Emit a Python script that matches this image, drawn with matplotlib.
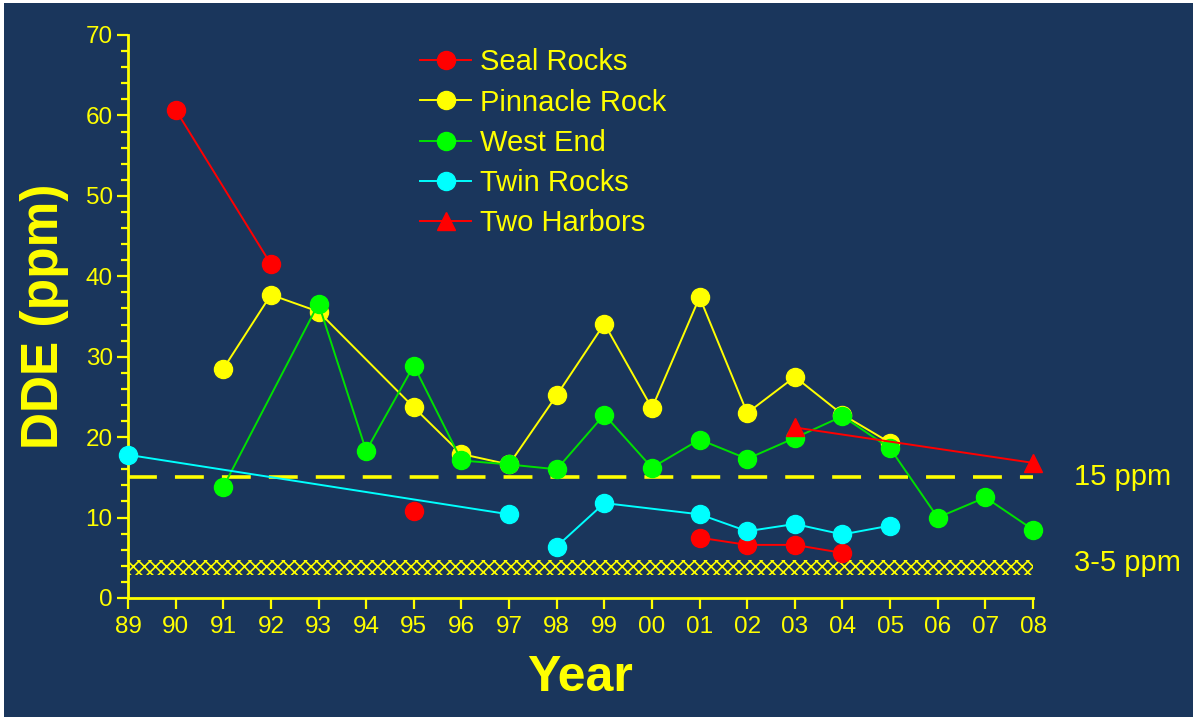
import numpy as np
import matplotlib.pyplot as plt
from matplotlib.patches import Rectangle

plt.rcParams['font.family'] = ['Liberation Sans', 'DejaVu Sans']
plt.rcParams['hatch.color'] = '#ffff00'
plt.rcParams['hatch.linewidth'] = 1.2

nan = np.nan
years = list(range(1989, 2009))
year_labels = ['89', '90', '91', '92', '93', '94', '95', '96', '97', '98',
               '99', '00', '01', '02', '03', '04', '05', '06', '07', '08']

# NaN breaks the line where the original chart leaves a gap
seal_x = [1990, 1992, nan, 1995, nan, 2001, 2002, 2003, 2004]
seal_y = [60.7, 41.5, nan, 10.8, nan, 7.5, 6.6, 6.6, 5.6]

pinnacle_x = [1991, 1992, 1993, 1995, 1996, 1997, 1998, 1999, 2000, 2001, 2002, 2003, 2004, 2005]
pinnacle_y = [28.5, 37.7, 35.6, 23.7, 17.9, 16.6, 25.2, 34.1, 23.6, 37.4, 23.0, 27.5, 22.8, 19.3]

west_x = [1991, 1993, 1994, 1995, 1996, 1997, 1998, 1999, 2000, 2001, 2002, 2003, 2004, 2005, 2006, 2007, 2008]
west_y = [13.8, 36.6, 18.3, 28.9, 17.1, 16.6, 16.0, 22.8, 16.2, 19.7, 17.3, 19.9, 22.6, 18.6, 10.0, 12.5, 8.5]

twin_x = [1989, 1997, nan, 1998, 1999, 2001, 2002, 2003, 2004, 2005]
twin_y = [17.8, 10.4, nan, 6.4, 11.8, 10.4, 8.3, 9.2, 7.9, 9.0]

harbors_x = [2003, 2008]
harbors_y = [21.2, 16.8]

limit_high = 15
band_low, band_high = 2.9, 4.7

navy = '#1a365c'
yellow = '#ffff00'

fig = plt.figure(figsize=(11.93, 7.17), dpi=100, facecolor=navy)
# thin white strips along the top and left edge of the slide crop
fig.patches.append(Rectangle((0, 0.996), 1, 0.01, transform=fig.transFigure,
                             facecolor='white', edgecolor='none'))
fig.patches.append(Rectangle((0, 0), 0.003, 1, transform=fig.transFigure,
                             facecolor='white', edgecolor='none'))
ax = fig.add_axes([0.1073, 0.166, 0.7586, 0.7852])
ax.set_facecolor('none')

ax.fill_between([1989, 2008], band_low, band_high, facecolor='none',
                edgecolor=yellow, hatch='xxx', linewidth=0, zorder=1)
ax.plot([1989, 2008], [limit_high, limit_high], color=yellow, lw=2.6,
        dashes=(8, 5), zorder=1)

style = dict(lw=1.4, ms=13, clip_on=False, zorder=3)
ax.plot(seal_x, seal_y, '-o', color='#ff0000', mfc='#ff0000', mec='#ff0000', label='Seal Rocks', **style)
ax.plot(pinnacle_x, pinnacle_y, '-o', color='#ffff00', mfc='#ffff00', mec='#ffff00', label='Pinnacle Rock', **style)
ax.plot(west_x, west_y, '-o', color='#00e000', mfc='#00ff00', mec='#00ff00', label='West End', **style)
ax.plot(twin_x, twin_y, '-o', color='#00ffff', mfc='#00ffff', mec='#00ffff', label='Twin Rocks', **style)
ax.plot(harbors_x, harbors_y, '-^', color='#ff0000', mfc='#ff0000', mec='#ff0000', label='Two Harbors', **style)

ax.set_xlim(1989, 2008)
ax.set_ylim(0, 70)
ax.set_xticks(years)
ax.set_xticklabels(year_labels)
ax.set_yticks(range(0, 71, 10))
ax.set_yticks(range(0, 71, 2), minor=True)

for s in ['top', 'right']:
    ax.spines[s].set_visible(False)
for s in ['left', 'bottom']:
    ax.spines[s].set_color(yellow)
    ax.spines[s].set_linewidth(2)

ax.tick_params(axis='both', which='major', colors=yellow, labelsize=17.5, length=8, width=1.6)
ax.tick_params(axis='y', which='minor', colors=yellow, length=5, width=1.6)
ax.tick_params(axis='x', pad=5)
ax.tick_params(axis='y', pad=3)

ax.set_ylabel('DDE (ppm)', color=yellow, fontsize=37, fontweight='bold', labelpad=12)
ax.set_xlabel('Year', color=yellow, fontsize=36, fontweight='bold', labelpad=12)

ax.text(1.045, limit_high, '15 ppm', transform=ax.get_yaxis_transform(),
        color=yellow, fontsize=21, va='center', ha='left')
ax.text(1.045, 4.3, '3-5 ppm', transform=ax.get_yaxis_transform(),
        color=yellow, fontsize=21, va='center', ha='left')

leg = ax.legend(loc='upper left', bbox_to_anchor=(0.31, 0.997), frameon=False,
                fontsize=21, labelcolor=yellow, handlelength=1.75, handletextpad=0.3,
                labelspacing=0.42, borderaxespad=0)

fig.savefig('out.png', dpi=100, facecolor=navy)
